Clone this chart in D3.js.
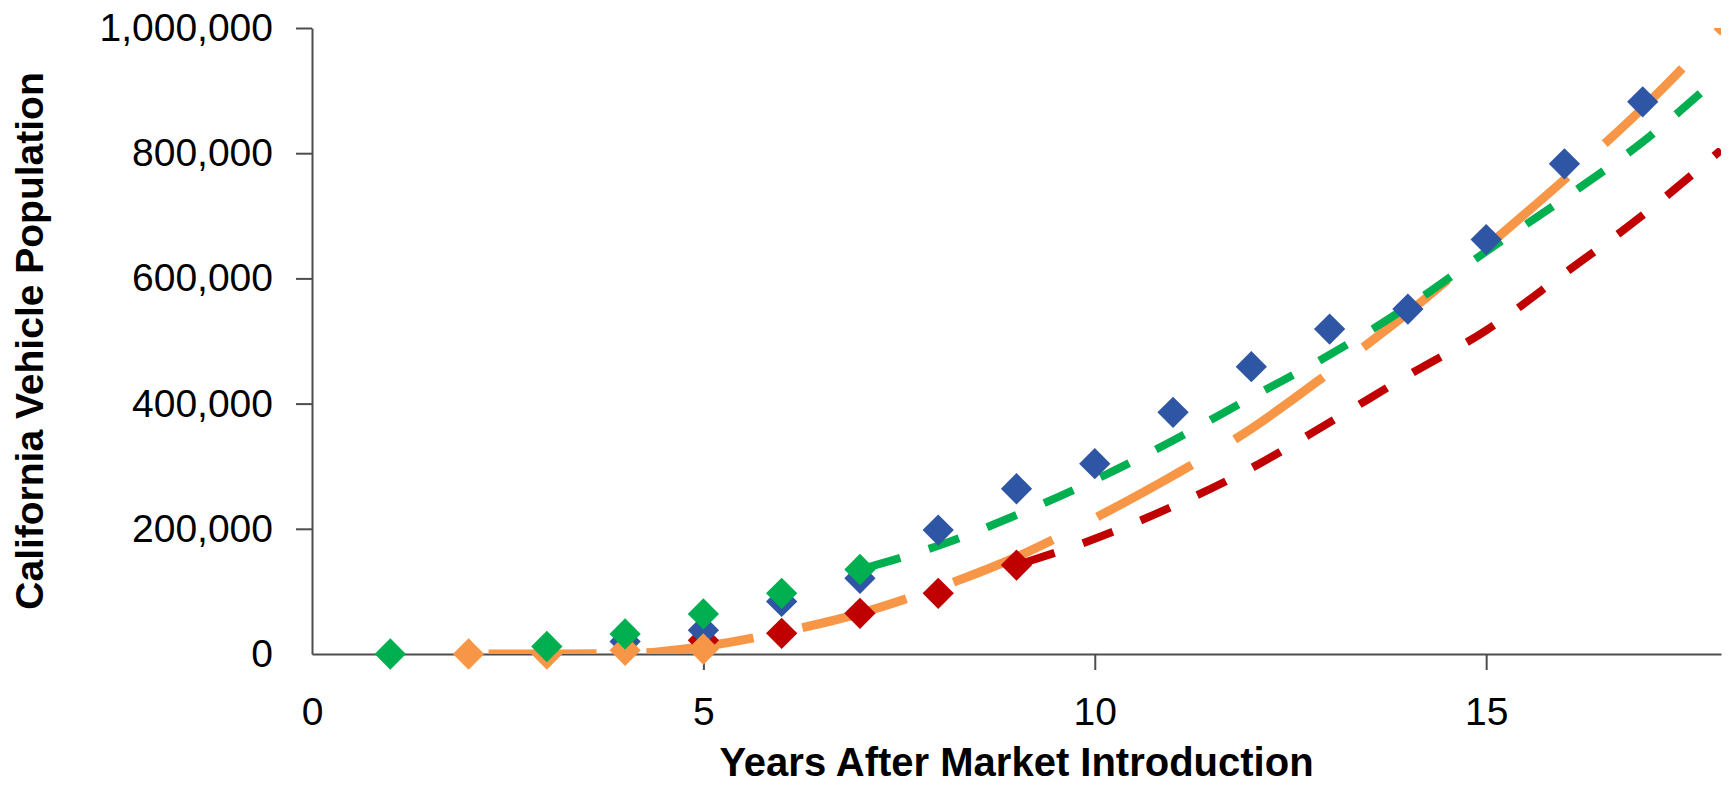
<!DOCTYPE html>
<html>
<head>
<meta charset="utf-8">
<script src="https://cdn.jsdelivr.net/npm/d3@7"></script>
<style>
  body { margin: 0; background: #fff; }
  svg text { font-family: "Liberation Sans", Arial, sans-serif; fill: #000; }
</style>
</head>
<body>
<div id="chart"></div>
<script>
// data
var blueYears = [4, 5, 6, 7, 8, 9, 10, 11, 12, 13, 14, 15, 16, 17];
var blueValues = [20000, 38000, 84000, 121000, 198000, 264000, 304000, 386000, 459000, 519000, 551000, 662000, 783000, 882000];

var greenPointYears = [1, 3, 4, 5, 6, 7];
var greenPointValues = [0, 12000, 32000, 64000, 97000, 135000];
var greenLineYears = [7, 8, 9, 10, 11, 12, 13, 14, 15, 16, 17, 18];
var greenLineValues = [135000, 173000, 222000, 278000, 341000, 410000, 478000, 555000, 643000, 728000, 818000, 925000];

var redPointYears = [5, 6, 7, 8, 9];
var redPointValues = [22000, 33000, 65000, 97000, 142000];
var redLineYears = [9, 10, 11, 12, 13, 14, 15, 16, 17, 18];
var redLineValues = [142000, 184000, 236000, 297000, 370000, 445000, 517000, 608000, 701000, 805000];

var orangePointYears = [2, 3, 4, 5];
var orangePointValues = [0, 0, 6000, 8000];
var orangeLineYears = [2, 3, 4, 5, 6, 7, 8, 9, 10, 11, 12, 13, 14, 15, 16, 17, 18];
var orangeLineValues = [0, 0, 500, 12000, 35000, 65000, 106000, 155000, 217000, 285000, 360000, 450000, 545000, 650000, 758000, 872000, 1000000];

var xTicks = [0, 5, 10, 15];
var yTicks = [0, 200000, 400000, 600000, 800000, 1000000];

var xTitle = 'Years After Market Introduction';
var yTitle = 'California Vehicle Population';

var attrs = {
  width: 1733,
  height: 811,
  margin: { top: 28, right: 12, bottom: 157, left: 312 },
  blue: '#2F56A5',
  green: '#00B050',
  red: '#C00000',
  orange: '#F79646',
  axisColor: '#4d4d4d',
  markerSize: 490
};

var chartWidth = attrs.width - attrs.margin.left - attrs.margin.right;
var chartHeight = attrs.height - attrs.margin.top - attrs.margin.bottom;

var zip = function (xs, ys) {
  return xs.map(function (x, i) { return { x: x, y: ys[i] }; });
};

var x = d3.scaleLinear().domain([0, 18]).range([0, chartWidth]);
var y = d3.scaleLinear().domain([0, 1000000]).range([chartHeight, 0]);

var svg = d3.select('#chart').append('svg')
  .attr('width', attrs.width)
  .attr('height', attrs.height);

var chart = svg.append('g')
  .attr('transform', `translate(${attrs.margin.left}, ${attrs.margin.top})`);

svg.append('defs').append('clipPath')
  .attr('id', 'plot-clip')
  .append('rect')
  .attr('width', chartWidth)
  .attr('height', chartHeight);

// axes
var yAxis = chart.append('g')
  .attr('class', 'y-axis')
  .call(d3.axisLeft(y).tickValues(yTicks).tickFormat(d3.format(',')).tickSize(16).tickSizeOuter(0).tickPadding(23));

var xAxis = chart.append('g')
  .attr('class', 'x-axis')
  .attr('transform', `translate(0, ${chartHeight})`)
  .call(d3.axisBottom(x).tickValues(xTicks).tickFormat(d3.format('d')).tickSize(16).tickSizeOuter(0).tickPadding(27));

[xAxis, yAxis].forEach(function (axis) {
  axis.select('.domain').attr('stroke', attrs.axisColor).attr('stroke-width', 2);
  axis.selectAll('.tick line').attr('stroke', attrs.axisColor).attr('stroke-width', 2)
    .filter(function (d) { return d === 0; }).remove();
  axis.selectAll('.tick text').attr('font-size', 39).attr('fill', '#000');
});

// axis titles
svg.append('text')
  .attr('x', attrs.margin.left + chartWidth / 2)
  .attr('y', 776)
  .attr('text-anchor', 'middle')
  .attr('font-size', 40)
  .attr('font-weight', 'bold')
  .text(xTitle);

svg.append('text')
  .attr('transform', 'translate(43, 341) rotate(-90)')
  .attr('text-anchor', 'middle')
  .attr('font-size', 39)
  .attr('font-weight', 'bold')
  .text(yTitle);

var plot = chart.append('g').attr('clip-path', 'url(#plot-clip)');

var line = d3.line()
  .x(function (d) { return x(d.x); })
  .y(function (d) { return y(d.y); })
  .curve(d3.curveMonotoneX);

var diamond = d3.symbol().type(d3.symbolSquare).size(attrs.markerSize);

function drawLine(data, color, width, dash, offset) {
  plot.append('path')
    .datum(data)
    .attr('d', line)
    .attr('fill', 'none')
    .attr('stroke', color)
    .attr('stroke-width', width)
    .attr('stroke-dasharray', dash)
    .attr('stroke-dashoffset', offset);
}

function drawMarkers(data, color) {
  chart.append('g')
    .selectAll('path')
    .data(data)
    .join('path')
    .attr('d', diamond)
    .attr('transform', function (d) { return `translate(${x(d.x)}, ${y(d.y)}) rotate(45)`; })
    .attr('fill', color);
}

// draw order follows the overlaps in the picture
drawLine(zip(orangeLineYears, orangeLineValues), attrs.orange, 9, '108,50', 138);
drawLine(zip(redLineYears, redLineValues), attrs.red, 8, '32,30', 54);
drawMarkers(zip(redPointYears, redPointValues), attrs.red);
drawMarkers(zip(blueYears, blueValues), attrs.blue);
drawMarkers(zip(orangePointYears, orangePointValues), attrs.orange);
drawLine(zip(greenLineYears, greenLineValues), attrs.green, 8, '32,30', 52);
drawMarkers(zip(greenPointYears, greenPointValues), attrs.green);
</script>
</body>
</html>
